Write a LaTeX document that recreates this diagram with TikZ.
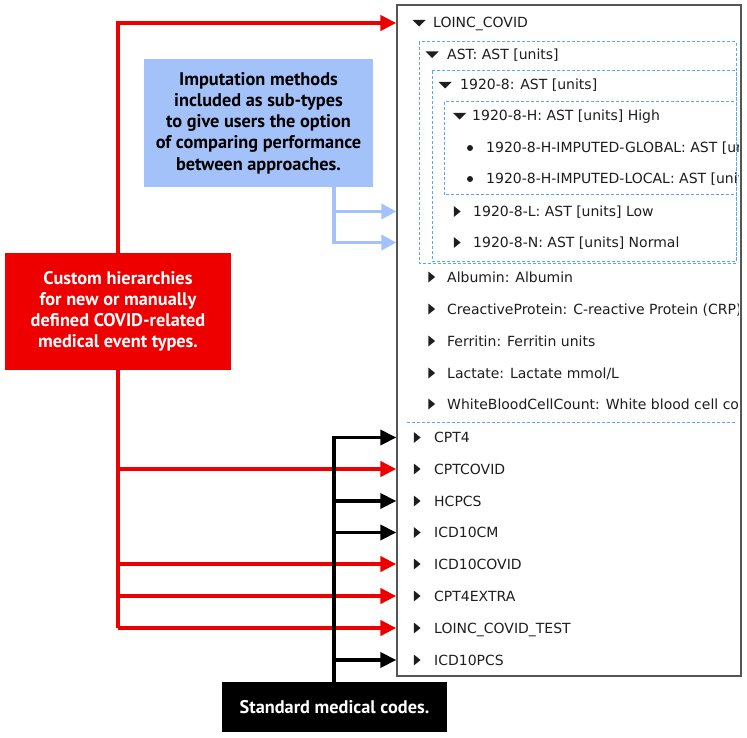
\documentclass[tikz,border=0pt]{standalone}
\usepackage{fontspec}
\setmainfont{DejaVu Sans}
\newfontfamily\calloutfont{PT Sans}
\usetikzlibrary{arrows.meta}
\pgfdeclarelayer{bg}
\pgfsetlayers{bg,main}
\definecolor{cred}{RGB}{238,0,0}
\definecolor{cbluefill}{RGB}{164,194,250}
\definecolor{cbluearr}{RGB}{164,194,250}
\definecolor{cdash}{RGB}{90,168,240}
\definecolor{rowtext}{RGB}{30,30,30}
\definecolor{panelborder}{RGB}{85,85,85}
\tikzset{
  row/.style={anchor=base west, inner sep=0pt, font=\fontsize{14}{16}\selectfont, text=rowtext},
  callout/.style={inner sep=0pt, align=center, font=\calloutfont\bfseries\fontsize{18.3}{21.2}\selectfont},
  dbox/.style={draw=cdash, dash pattern=on 3pt off 2pt, line width=1pt},
  redarr/.style={draw=cred, line width=4pt, -{Triangle[length=16pt,width=15pt]}},
  blkarr/.style={draw=black, line width=3.5pt, -{Triangle[length=16pt,width=15pt]}},
  bluearr/.style={draw=cbluearr, line width=3.5pt, -{Triangle[length=15pt,width=15pt]}},
  dtri/.pic={\fill[rowtext] (-6.5,-3) -- (6.5,-3) -- (0,3.5) -- cycle;},
  rtri/.pic={\fill[rowtext] (-3.2,-5.5) -- (3.6,0) -- (-3.2,5.5) -- cycle;},
  bul/.pic={\fill[rowtext] (0,0) circle (3pt);}
}
\begin{document}
\begin{tikzpicture}[x=1pt,y=-1pt]
\useasboundingbox (0,0) rectangle (747,738);
% panel
\node[draw=panelborder, line width=1.3pt, fill=white, minimum width=344pt, minimum height=671pt, inner sep=0pt] (panel) at (569,340.5) {};
% marker coordinates
\coordinate (m-loinc) at (419,23);
\coordinate (m-ast) at (432,54.5);
\coordinate (m-a19208) at (445,85);
\coordinate (m-high) at (459.5,116);
\coordinate (m-glob) at (470,148);
\coordinate (m-loc) at (470,179);
\coordinate (m-low) at (457,211.5);
\coordinate (m-norm) at (457,242.5);
\coordinate (m-alb) at (431.5,277);
\coordinate (m-crp) at (431.5,309);
\coordinate (m-fer) at (431.5,341);
\coordinate (m-lac) at (431.5,373);
\coordinate (m-wbc) at (431.5,404);
\coordinate (m-cpt4) at (417,437.5);
\coordinate (m-cptcovid) at (417,469);
\coordinate (m-hcpcs) at (417,501);
\coordinate (m-icd10cm) at (417,532.5);
\coordinate (m-icd10covid) at (417,564);
\coordinate (m-cpt4extra) at (417,596);
\coordinate (m-loinctest) at (417,628);
\coordinate (m-icd10pcs) at (417,660);
\begin{scope}
\clip (398,6) rectangle (738,675);
\draw[dbox] (419,42) rectangle (736,263);
\draw[dbox] (432,71) rectangle (736,261);
\draw[dbox] (444,102) rectangle (736,195);
\draw[dbox] (407,422) -- (736,422);
\pic at (m-loinc) {dtri};
\pic at (m-ast) {dtri};
\pic at (m-a19208) {dtri};
\pic at (m-high) {dtri};
\pic at (m-glob) {bul};
\pic at (m-loc) {bul};
\pic at (m-low) {rtri};
\pic at (m-norm) {rtri};
\pic at (m-alb) {rtri};
\pic at (m-crp) {rtri};
\pic at (m-fer) {rtri};
\pic at (m-lac) {rtri};
\pic at (m-wbc) {rtri};
\pic at (m-cpt4) {rtri};
\pic at (m-cptcovid) {rtri};
\pic at (m-hcpcs) {rtri};
\pic at (m-icd10cm) {rtri};
\pic at (m-icd10covid) {rtri};
\pic at (m-cpt4extra) {rtri};
\pic at (m-loinctest) {rtri};
\pic at (m-icd10pcs) {rtri};
\node[row] (loinc) at (433,28) {LOINC\_COVID};
\node[row] (ast) at (447,59.5) {AST: AST [units]};
\node[row] (a19208) at (460,90) {1920-8: AST [units]};
\node[row] (high) at (472,121) {1920-8-H: AST [units] High};
\node[row] (glob) at (486,153) {1920-8-H-IMPUTED-GLOBAL: AST [units]};
\node[row] (loc) at (486,184) {1920-8-H-IMPUTED-LOCAL: AST [units]};
\node[row] (low) at (473,216.5) {1920-8-L: AST [units] Low};
\node[row] (norm) at (473,247.5) {1920-8-N: AST [units] Normal};
\node[row] (alb) at (447,282) {Albumin: Albumin};
\node[row] (crp) at (447,314) {CreactiveProtein: C-reactive Protein (CRP)};
\node[row] (fer) at (447,346) {Ferritin: Ferritin units};
\node[row] (lac) at (447,378) {Lactate: Lactate mmol/L};
\node[row] (wbc) at (447,409) {WhiteBloodCellCount: White blood cell count};
\node[row] (cpt4) at (434,442.5) {CPT4};
\node[row] (cptcovid) at (434,474) {CPTCOVID};
\node[row] (hcpcs) at (434,506) {HCPCS};
\node[row] (icd10cm) at (434,537.5) {ICD10CM};
\node[row] (icd10covid) at (434,569) {ICD10COVID};
\node[row] (cpt4extra) at (434,601) {CPT4EXTRA};
\node[row] (loinctest) at (434,633) {LOINC\_COVID\_TEST};
\node[row] (icd10pcs) at (434,665) {ICD10PCS};
\end{scope}
% callouts
\node[callout, fill=cred, text=white, minimum width=226pt, minimum height=117pt] (custom) at (118,311.5)
  {Custom hierarchies\\for new or manually\\defined COVID-related\\medical event types.};
\node[callout, fill=cbluefill, text=black, minimum width=229pt, minimum height=128pt] (imp) at (258.5,123)
  {Imputation methods\\included as sub-types\\to give users the option\\of comparing performance\\between approaches.};
\node[callout, fill=black, text=white, minimum width=225pt, minimum height=50pt] (std) at (334.5,707)
  {Standard medical codes.};
\coordinate (impout) at (334,187);
% connectors
\begin{pgfonlayer}{bg}
\draw[redarr] (custom.north |- m-loinctest) -- (custom.north |- m-loinc) -- (panel.west |- m-loinc);
\end{pgfonlayer}
\draw[redarr] (custom.north |- m-cptcovid) -- (panel.west |- m-cptcovid);
\draw[redarr] (custom.north |- m-icd10covid) -- (panel.west |- m-icd10covid);
\draw[redarr] (custom.north |- m-cpt4extra) -- (panel.west |- m-cpt4extra);
\draw[redarr] (custom.north |- m-loinctest) -- (panel.west |- m-loinctest);
\draw[blkarr] (std.north -| impout) -- (impout |- m-cpt4) -- (panel.west |- m-cpt4);
\draw[blkarr] (impout |- m-hcpcs) -- (panel.west |- m-hcpcs);
\draw[blkarr] (impout |- m-icd10cm) -- (panel.west |- m-icd10cm);
\draw[blkarr] (impout |- m-icd10pcs) -- (panel.west |- m-icd10pcs);
\draw[bluearr] (impout) -- (impout |- m-norm) -- (panel.west |- m-norm);
\draw[bluearr] (impout |- m-low) -- (panel.west |- m-low);
\end{tikzpicture}
\end{document}
